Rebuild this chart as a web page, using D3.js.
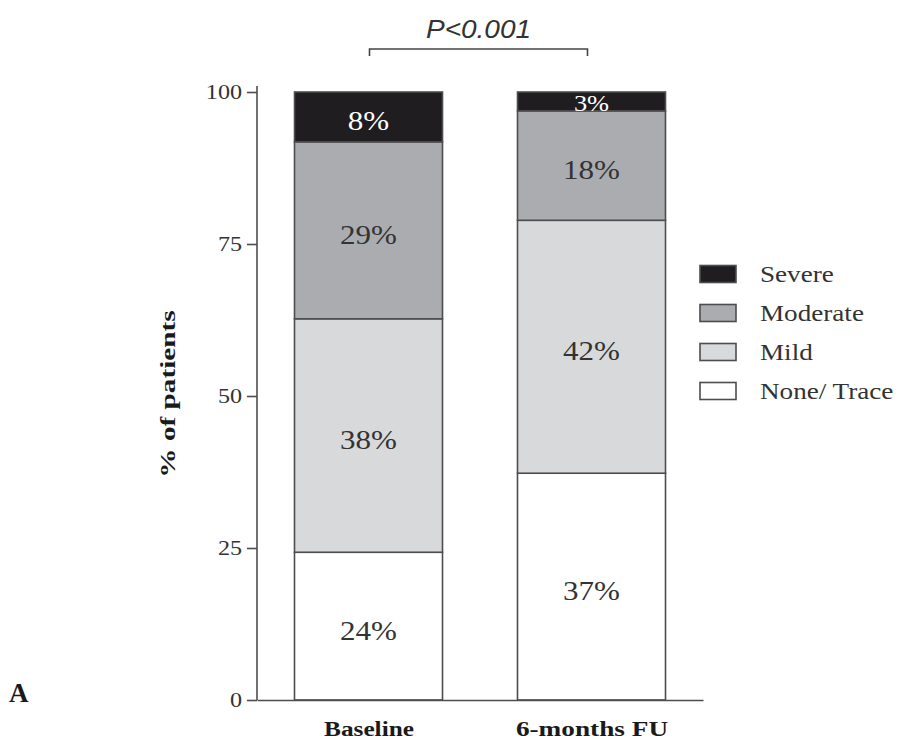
<!DOCTYPE html>
<html>
<head>
<meta charset="utf-8">
<script src="https://cdn.jsdelivr.net/npm/d3@7"></script>
<style>
  html, body { margin: 0; padding: 0; background: #fff; }
  svg { display: block; }
</style>
</head>
<body>
<svg id="chart" width="909" height="740"></svg>
<script>
// Regurgitation grade distribution, baseline vs 6-month follow-up (% of patients)
const groups = ["Baseline", "6-months FU"];
const grades = ["None/ Trace", "Mild", "Moderate", "Severe"];   // stacked bottom -> top
const noneTrace = [24.3, 37.3];
const mild      = [38.4, 41.6];
const moderate  = [29.1, 18.0];
const severe    = [8.2, 3.1];
const yTicks = [0, 25, 50, 75, 100];
const legendOrder = ["Severe", "Moderate", "Mild", "None/ Trace"];
const pLabel = "P<0.001";

const fills = {
  "None/ Trace": "#ffffff",
  "Mild": "#d8d9db",
  "Moderate": "#abacb0",
  "Severe": "#1f1d20"
};
const stroke = "#4d4d4f";
const serif = "'Liberation Serif', 'Times New Roman', serif";
const stretch = 1.15;   // horizontal widening of the serif lettering

const rows = groups.map((g, i) => ({
  group: g,
  "None/ Trace": noneTrace[i],
  "Mild": mild[i],
  "Moderate": moderate[i],
  "Severe": severe[i]
}));

const svg = d3.select("#chart");

const x = d3.scalePoint().domain(groups).range([257, 703]).padding(0.5);
const y = d3.scaleLinear().domain([0, 100]).range([700, 92]);
const barW = 148;

const stack = d3.stack().keys(grades)(rows);

// stacked bars
const layers = svg.append("g").selectAll("g")
  .data(stack).join("g")
  .attr("fill", d => fills[d.key]);

layers.selectAll("rect")
  .data(d => d.map(s => Object.assign(s, { key: d.key })))
  .join("rect")
  .attr("x", d => x(d.data.group) - barW / 2)
  .attr("y", d => y(d[1]))
  .attr("width", barW)
  .attr("height", d => y(d[0]) - y(d[1]))
  .attr("stroke", stroke)
  .attr("stroke-width", 1.6);

// percentage labels inside each segment
stack.forEach(layer => {
  layer.forEach(s => {
    const v = s[1] - s[0];
    const cy = (y(s[0]) + y(s[1])) / 2;
    const h = y(s[0]) - y(s[1]);
    const g = svg.append("g")
      .attr("transform", `translate(${x(s.data.group)},${cy}) scale(${stretch},1)`);
    g.append("text")
      .attr("text-anchor", "middle")
      .attr("dy", h < 25 ? "0.42em" : "0.5em")
      .attr("font-family", serif)
      .attr("font-size", h < 25 ? 23 : 27)
      .attr("fill", layer.key === "Severe" ? "#ffffff" : "#333333")
      .text(Math.round(v) + "%");
  });
});

// y axis
const yAxis = svg.append("g")
  .attr("transform", "translate(257,0)")
  .call(d3.axisLeft(y).tickValues(yTicks).tickSize(10).tickSizeOuter(0).tickPadding(3));
yAxis.select(".domain").attr("stroke", stroke).attr("stroke-width", 1.6)
  .attr("d", `M0,${y(100) - 6}V${y(0)}`);
yAxis.selectAll(".tick line").attr("stroke", stroke).attr("stroke-width", 1.6);
yAxis.selectAll(".tick text")
  .attr("font-family", serif)
  .attr("font-size", 21)
  .attr("fill", "#333")
  .attr("transform", `scale(${stretch},1)`);

// x axis
const xAxis = svg.append("g")
  .attr("transform", `translate(0,${y(0)})`)
  .call(d3.axisBottom(x).tickSize(0).tickSizeOuter(0).tickPadding(20));
xAxis.select(".domain").attr("stroke", stroke).attr("stroke-width", 1.6);
xAxis.selectAll(".tick text")
  .attr("font-family", serif)
  .attr("font-weight", "bold")
  .attr("font-size", 22)
  .attr("fill", "#1a1a1a")
  .attr("transform", (d, i) => `scale(${i === 1 ? 1.24 : stretch},1)`);

// y axis title
svg.append("g")
  .attr("transform", "translate(167,394) rotate(-90) scale(1.33,1)")
  .append("text")
  .attr("text-anchor", "middle")
  .attr("dy", "0.35em")
  .attr("font-family", serif)
  .attr("font-weight", "bold")
  .attr("font-size", 22)
  .attr("fill", "#1a1a1a")
  .text("% of patients");

// significance bracket
const bx0 = x(groups[0]) + 1, bx1 = x(groups[1]) - 4, by = 49;
svg.append("path")
  .attr("d", `M${bx0},${by + 7}V${by}H${bx1}V${by + 7}`)
  .attr("fill", "none")
  .attr("stroke", "#444")
  .attr("stroke-width", 1.6);
svg.append("g")
  .attr("transform", `translate(${(bx0 + bx1) / 2},38) scale(1.12,1)`)
  .append("text")
  .attr("text-anchor", "middle")
  .attr("font-family", "'Liberation Sans', Arial, sans-serif")
  .attr("font-style", "italic")
  .attr("font-size", 25)
  .attr("fill", "#333")
  .text(pLabel);

// legend
const legend = svg.append("g").attr("transform", "translate(700,0)");
const legendY = d3.scalePoint().domain(legendOrder).range([274, 391]);
legendOrder.forEach(k => {
  const cy = legendY(k);
  legend.append("rect")
    .attr("x", 0).attr("y", cy - 8.5)
    .attr("width", 36).attr("height", 17)
    .attr("fill", fills[k])
    .attr("stroke", stroke)
    .attr("stroke-width", 1.6);
  legend.append("g")
    .attr("transform", `translate(60,${cy}) scale(1.18,1)`)
    .append("text")
    .attr("dy", "0.35em")
    .attr("font-family", serif)
    .attr("font-size", 23)
    .attr("fill", "#333")
    .text(k);
});

// panel letter
svg.append("text")
  .attr("x", 9).attr("y", 702)
  .attr("font-family", serif)
  .attr("font-weight", "bold")
  .attr("font-size", 27)
  .attr("fill", "#1a1a1a")
  .text("A");
</script>
</body>
</html>
